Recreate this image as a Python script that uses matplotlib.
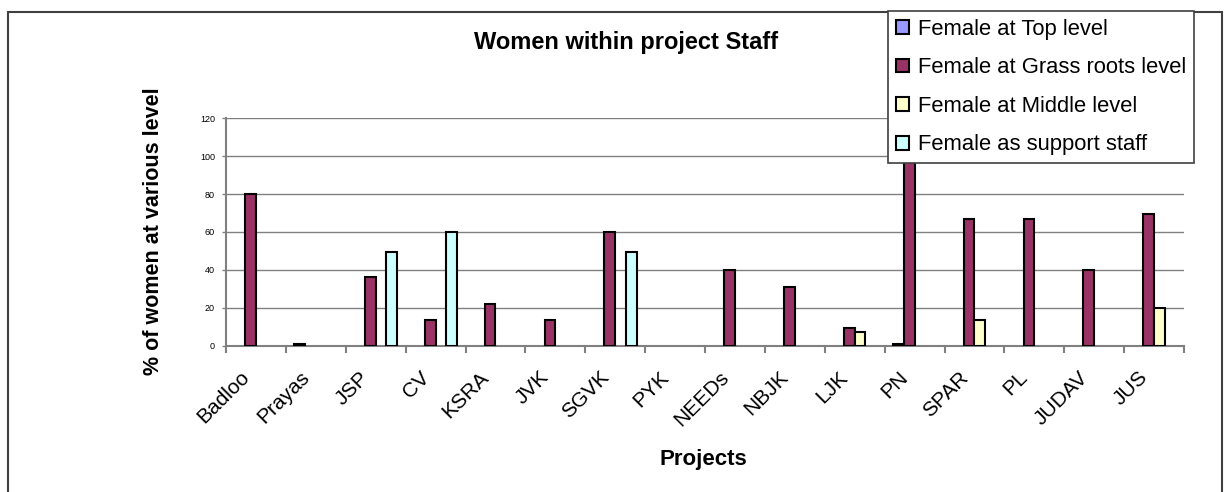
import numpy as np
import matplotlib
matplotlib.use('Agg')
from matplotlib import pyplot as plt
from matplotlib.patches import Rectangle, Patch

plt.rcParams['font.family'] = ['Liberation Sans', 'DejaVu Sans']

projects = ['Badloo', 'Prayas', 'JSP', 'CV', 'KSRA', 'JVK', 'SGVK', 'PYK',
            'NEEDs', 'NBJK', 'LJK', 'PN', 'SPAR', 'PL', 'JUDAV', 'JUS']

top_level = [0, 1, 0, 0, 0, 0, 0, 0, 0, 0, 0, 1, 0, 0, 0, 0]
grass_roots = [80, 0, 36, 13.3, 22, 13.3, 60, 0, 40, 31, 9, 100, 67, 67, 40, 69.5]
middle_level = [0, 0, 0, 0, 0, 0, 0, 0, 0, 0, 7, 0, 13.5, 0, 0, 20]
support_staff = [0, 0, 49.5, 60, 0, 0, 49.5, 0, 0, 0, 0, 0, 0, 0, 0, 0]

series = [('Female at Top level', top_level, '#9999FF'),
          ('Female at Grass roots level', grass_roots, '#993366'),
          ('Female at Middle level', middle_level, '#FFFFCC'),
          ('Female as support staff', support_staff, '#CCFFFF')]

W, H = 1226, 492
fig = plt.figure(figsize=(W / 100, H / 100), dpi=100)
ax = fig.add_axes([226 / W, 1 - 345.5 / H, (1184 - 226) / W, (345.5 - 117.5) / H])

x = np.arange(len(projects))
bw = 0.18
offsets = [-1.5 * bw, -0.5 * bw, 0.5 * bw, 1.5 * bw]
for (name, vals, col), off in zip(series, offsets):
    vals = np.array(vals, dtype=float)
    keep = vals > 0
    ax.bar(x[keep] + off, vals[keep], width=bw, color=col,
           edgecolor='black', linewidth=1.5, zorder=3)

ax.set_xlim(-0.5, len(projects) - 0.5)
ax.set_ylim(0, 120.4)
ax.set_yticks(range(0, 121, 20))
ax.yaxis.grid(True, color='#808080', linewidth=1)
ax.set_axisbelow(True)

for s in ['top', 'right']:
    ax.spines[s].set_visible(False)
for s in ['left', 'bottom']:
    ax.spines[s].set_color('#808080')
    ax.spines[s].set_linewidth(1.5)

# labels sit a bit left of the group centre, like the excel chart
ax.set_xticks(x - 0.27)
ax.set_xticklabels(projects, rotation=45, ha='right', va='top',
                   rotation_mode='anchor', fontsize=15)
ax.set_xticks(np.arange(-0.5, len(projects)), minor=True)
ax.tick_params(axis='x', which='major', length=0, pad=16)
ax.tick_params(axis='x', which='minor', length=5, width=1.5, color='#808080')
ax.tick_params(axis='y', length=3, width=1, color='#808080',
               labelsize=6.5, pad=5)

ax.set_ylabel('% of women at various level', fontsize=15.5, fontweight='bold',
              va='center')
ax.yaxis.set_label_coords(-0.0762, 0.5)
ax.set_xlabel('Projects', fontsize=16, fontweight='bold', va='center')
ax.xaxis.set_label_coords(0.498, -0.502)
fig.text(626 / W, 1 - 42 / H, 'Women within project Staff', ha='center',
         va='center', fontsize=17, fontweight='bold')

# outer chart frame
fig.patches.append(Rectangle((8 / W, -0.05), (1222 - 8) / W, 1.05 - 12 / H,
                             transform=fig.transFigure, fill=False,
                             edgecolor='#404040', linewidth=1.5))

handles = [Patch(facecolor=col, edgecolor='black', linewidth=1.5)
           for _, _, col in series]
leg = fig.legend(handles, [s[0] for s in series],
                 loc='upper left', bbox_to_anchor=(888 / W, 1 - 11 / H),
                 fontsize=15.8, frameon=True, fancybox=False, shadow=False,
                 handlelength=0.6, handleheight=0.6, handletextpad=0.4,
                 labelspacing=0.8, borderpad=0.35, borderaxespad=0)
leg.get_frame().set_edgecolor('#404040')
leg.get_frame().set_linewidth(1.2)
leg.get_frame().set_alpha(1)

fig.savefig('out.png', dpi=100)
